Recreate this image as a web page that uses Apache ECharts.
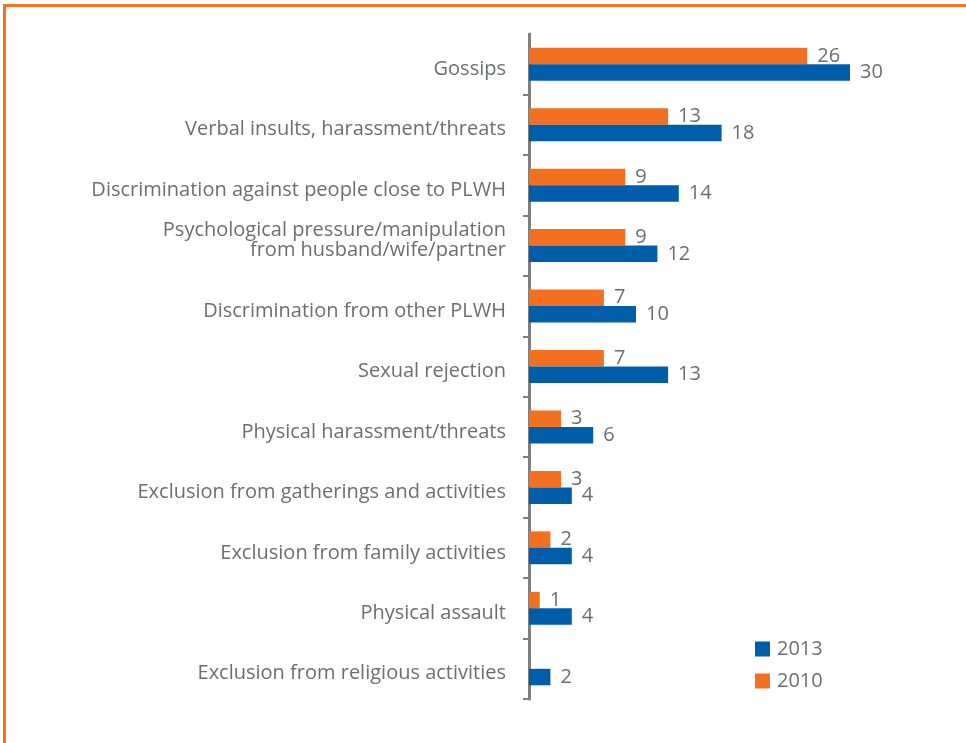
<!DOCTYPE html>
<html>
<head>
<meta charset="utf-8">
<script src="https://cdn.jsdelivr.net/npm/echarts@6/dist/echarts.min.js"></script>
<style>
  html, body { margin: 0; padding: 0; background: #fff; }
  #frame { position: absolute; left: 3px; top: 4px; width: 1000px; height: 800px;
           border-left: 3px solid #F47321; border-top: 3px solid #F47321; }
  #chart { position: absolute; left: 0; top: 0; width: 966px; height: 743px; }
</style>
</head>
<body>
<div id="frame"></div>
<div id="chart"></div>
<script>
// Forms of stigma and discrimination experienced, % of respondents
const categories = [
  'Gossips',
  'Verbal insults, harassment/threats',
  'Discrimination against people close to PLWH',
  'Psychological pressure/manipulation\nfrom husband/wife/partner',
  'Discrimination from other PLWH',
  'Sexual rejection',
  'Physical harassment/threats',
  'Exclusion from gatherings and activities',
  'Exclusion from family activities',
  'Physical assault',
  'Exclusion from religious activities'
];
const values2010 = [26, 13, 9, 9, 7, 7, 3, 3, 2, 1, null];
const values2013 = [30, 18, 14, 12, 10, 13, 6, 4, 4, 4, 2];

const ORANGE = '#F37021';
const BLUE = '#005DAA';
const GREY = '#6D6E71';
const FONT = '"Open Sans", sans-serif';

const chart = echarts.init(document.getElementById('chart'), null, { renderer: 'canvas' });

const labelStyle = {
  show: true,
  position: 'right',
  distance: 10,
  color: GREY,
  fontFamily: FONT,
  fontSize: 20
};

const nameText = { color: GREY, fontFamily: FONT, fontSize: 20 };

// single-line names sit a little below the bar pair, wrapped names a little above
function formatCategory(name) {
  const lines = name.split('\n');
  if (lines.length === 1) {
    return '{one|' + name + '}';
  }
  return lines.map(function (line) { return '{multi|' + line + '}'; }).join('\n') + '\n{gap| }';
}

chart.setOption({
  animation: false,
  textStyle: { fontFamily: FONT },
  grid: { left: 529, top: 34, width: 428, height: 665, containLabel: false },
  legend: {
    orient: 'vertical',
    left: 750,
    top: 634,
    itemWidth: 15,
    itemHeight: 15,
    itemGap: 12,
    icon: 'rect',
    data: ['2013', '2010'],
    textStyle: { color: GREY, fontFamily: FONT, fontSize: 20, padding: [0, 0, 0, 2] }
  },
  xAxis: {
    type: 'value',
    min: 0,
    max: 40,
    show: false
  },
  yAxis: {
    type: 'category',
    inverse: true,
    data: categories,
    axisLine: { show: true, lineStyle: { color: '#7F7F7F', width: 3 } },
    axisTick: {
      show: true,
      length: 6,
      // no tick on the open top end of the axis
      interval: function (index) { return index !== 0; },
      lineStyle: { color: '#7F7F7F', width: 2 }
    },
    axisLabel: {
      color: GREY,
      fontFamily: FONT,
      fontSize: 20,
      margin: 23,
      align: 'right',
      formatter: formatCategory,
      rich: {
        one: Object.assign({ lineHeight: 22, padding: [10, 0, 0, 0], align: 'right' }, nameText),
        multi: Object.assign({ lineHeight: 20, align: 'right' }, nameText),
        gap: Object.assign({ lineHeight: 10, align: 'right' }, nameText)
      }
    },
    splitLine: { show: false }
  },
  series: [
    {
      name: '2010',
      type: 'bar',
      data: values2010,
      barWidth: 16.5,
      barGap: '0%',
      itemStyle: { color: ORANGE },
      label: labelStyle
    },
    {
      name: '2013',
      type: 'bar',
      data: values2013,
      barWidth: 16.5,
      barGap: '0%',
      itemStyle: { color: BLUE },
      label: labelStyle
    }
  ]
});
</script>
</body>
</html>
